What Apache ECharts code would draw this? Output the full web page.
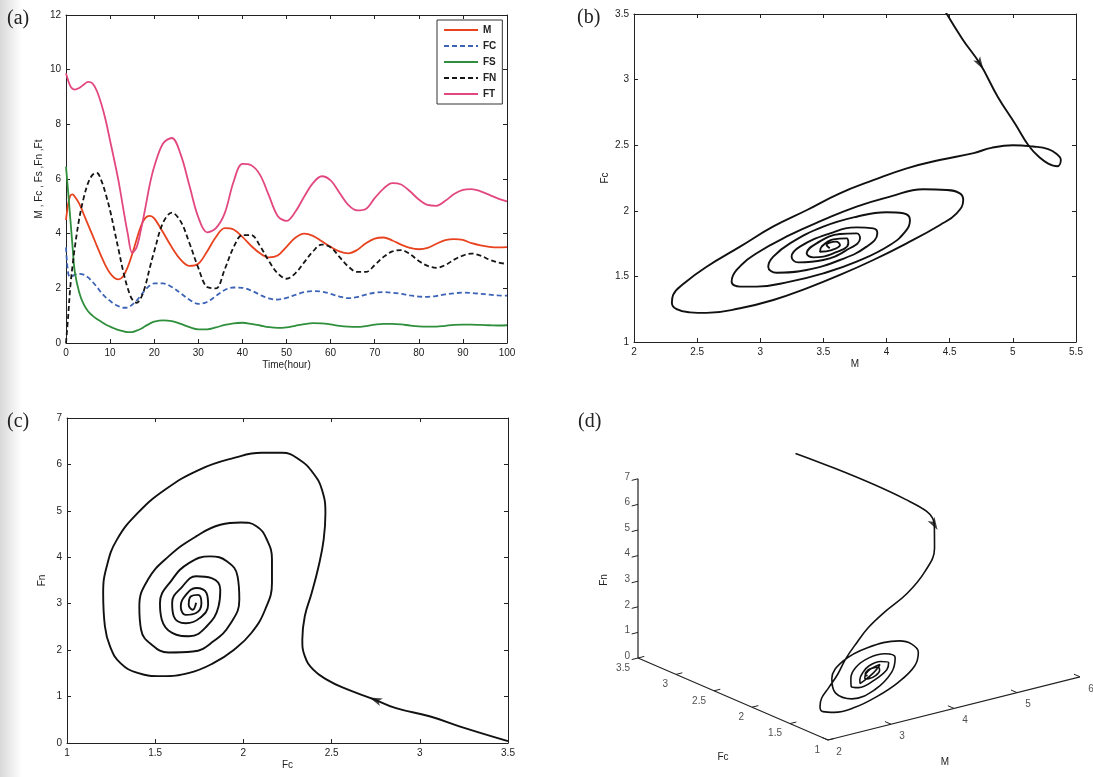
<!DOCTYPE html>
<html><head><meta charset="utf-8">
<script src="https://cdn.jsdelivr.net/npm/echarts@6/dist/echarts.min.js"></script>
<style>html,body{margin:0;padding:0;background:#fff}#c{width:1093px;height:777px}</style>
</head><body><div id="c"></div><script>
// ---------- (a) time series (hours) ----------
const T  = [0,0.5,1,1.5,2,3,4,5,6,7,8,9,10,11,12,13,14,15,16,17,18,19,20,22,24,26,28,30,32,34,36,38,40,42,44,46,48,50,52,54,56,58,60,62,64,66,68,70,72,74,76,78,80,82,84,86,88,90,92,94,96,98,100];
const M  = [4.5,5.1,5.4,5.44,5.35,5.1,4.72,4.33,3.95,3.55,3.17,2.82,2.55,2.38,2.33,2.45,2.78,3.25,3.78,4.28,4.58,4.65,4.56,4.05,3.5,3.05,2.82,2.9,3.35,3.88,4.2,4.15,3.88,3.55,3.28,3.13,3.2,3.52,3.85,4.0,3.92,3.72,3.52,3.35,3.28,3.4,3.65,3.82,3.86,3.75,3.6,3.48,3.43,3.48,3.63,3.76,3.8,3.77,3.65,3.57,3.52,3.5,3.51];
const FC = [3.5,2.55,2.42,2.45,2.5,2.53,2.5,2.4,2.24,2.05,1.84,1.67,1.54,1.42,1.34,1.29,1.3,1.4,1.55,1.75,1.95,2.1,2.18,2.18,2.05,1.82,1.58,1.43,1.5,1.72,1.94,2.03,2.02,1.92,1.76,1.63,1.59,1.65,1.76,1.86,1.9,1.88,1.8,1.7,1.64,1.68,1.77,1.84,1.86,1.84,1.8,1.74,1.7,1.69,1.72,1.78,1.82,1.84,1.83,1.8,1.77,1.74,1.73];
const FS = [6.45,5.5,4.5,3.5,2.6,1.85,1.42,1.16,1.0,0.88,0.78,0.68,0.6,0.53,0.47,0.43,0.4,0.4,0.45,0.52,0.62,0.71,0.78,0.83,0.8,0.7,0.58,0.5,0.5,0.57,0.66,0.72,0.74,0.7,0.64,0.58,0.55,0.57,0.63,0.69,0.73,0.72,0.68,0.63,0.6,0.59,0.62,0.67,0.7,0.7,0.68,0.64,0.61,0.6,0.6,0.63,0.66,0.67,0.67,0.66,0.65,0.64,0.65];
const FN = [0,1.0,2.1,2.85,3.5,4.55,5.3,5.85,6.15,6.22,5.95,5.45,4.85,4.1,3.35,2.6,2.0,1.6,1.47,1.65,2.1,2.75,3.35,4.4,4.77,4.45,3.65,2.75,2.05,2.0,2.7,3.5,3.95,3.95,3.55,3.0,2.55,2.35,2.55,2.95,3.35,3.6,3.5,3.15,2.8,2.6,2.6,2.85,3.15,3.35,3.4,3.25,3.0,2.82,2.75,2.85,3.05,3.2,3.27,3.2,3.05,2.95,2.89];
const FT = [9.87,9.6,9.4,9.3,9.27,9.33,9.45,9.55,9.5,9.22,8.75,8.15,7.4,6.65,5.85,4.9,4.0,3.3,3.5,4.15,4.95,5.8,6.45,7.3,7.5,6.9,5.75,4.6,4.05,4.2,4.75,5.9,6.55,6.5,6.15,5.4,4.65,4.47,4.8,5.35,5.85,6.1,5.95,5.5,5.05,4.85,4.9,5.3,5.65,5.85,5.8,5.55,5.25,5.05,5.02,5.2,5.45,5.6,5.63,5.55,5.42,5.28,5.18];
const NAMES = ['M','FC','FS','FN','FT'];

// ---------- (b) phase portrait M vs Fc ----------
const bM  = [4.44,4.6,4.74,4.88,5.02,5.13,5.22,5.28,5.35,5.38,5.35,5.28,5.16,5.0,4.83,4.69,4.42,4.16,3.9,3.63,3.37,3.10,2.84,2.575,2.40,2.31,2.30,2.338,2.443,2.575,2.84,3.103,3.367,3.631,3.895,4.159,4.423,4.555,4.607,4.58,4.476,4.291,4.027,3.763,3.499,3.235,2.971,2.813,2.773,2.84,2.971,3.235,3.499,3.763,4.027,4.159,4.185,4.132,4.0,3.763,3.499,3.235,3.103,3.063,3.13,3.367,3.631,3.842,3.927,3.895,3.763,3.552,3.314,3.248,3.3,3.499,3.684,3.79,3.763,3.631,3.446,3.367,3.42,3.578,3.697,3.684,3.578,3.486,3.473,3.565,3.631,3.6,3.525,3.55];
const bFc = [3.56,3.31,3.12,2.87,2.66,2.49,2.40,2.36,2.34,2.39,2.43,2.47,2.49,2.5,2.48,2.44,2.387,2.324,2.235,2.133,2.006,1.879,1.727,1.574,1.45,1.36,1.30,1.25,1.226,1.222,1.257,1.32,1.409,1.511,1.625,1.752,1.892,1.981,2.082,2.133,2.159,2.164,2.108,2.032,1.93,1.816,1.676,1.549,1.46,1.422,1.422,1.46,1.523,1.612,1.739,1.854,1.93,1.981,1.989,1.955,1.879,1.752,1.65,1.574,1.528,1.549,1.625,1.727,1.828,1.866,1.874,1.828,1.727,1.65,1.607,1.625,1.701,1.79,1.828,1.823,1.752,1.676,1.645,1.676,1.752,1.79,1.782,1.727,1.688,1.701,1.739,1.765,1.739,1.714];

// ---------- (c) phase portrait Fc vs Fn ----------
const cFc = [3.5,3.256,3.06,2.865,2.748,2.572,2.475,2.396,2.348,2.334,2.348,2.387,2.426,2.455,2.465,2.445,2.396,2.318,2.22,2.104,1.947,1.752,1.557,1.4,1.283,1.225,1.205,1.215,1.244,1.303,1.4,1.537,1.693,1.83,1.947,2.045,2.123,2.162,2.162,2.133,2.074,1.986,1.869,1.732,1.576,1.459,1.41,1.42,1.479,1.576,1.713,1.83,1.928,1.977,1.967,1.908,1.811,1.693,1.596,1.527,1.537,1.596,1.693,1.791,1.859,1.869,1.82,1.732,1.654,1.596,1.605,1.674,1.752,1.8,1.791,1.732,1.674,1.645,1.674,1.732,1.762,1.742,1.703,1.69,1.713,1.732];
const cFn = [0.04,0.32,0.57,0.75,0.93,1.18,1.36,1.58,1.87,2.23,2.73,3.23,3.8,4.38,4.95,5.46,5.81,6.1,6.25,6.25,6.14,5.89,5.46,4.95,4.38,3.8,3.23,2.51,2.08,1.72,1.51,1.44,1.51,1.72,2.01,2.37,2.87,3.45,3.95,4.38,4.67,4.75,4.7,4.45,4.02,3.52,2.94,2.44,2.12,1.95,1.97,2.19,2.58,3.09,3.59,3.91,4.02,3.88,3.52,3.01,2.66,2.37,2.3,2.51,2.94,3.3,3.55,3.59,3.37,3.02,2.73,2.58,2.69,2.98,3.23,3.34,3.19,2.94,2.76,2.8,3.01,3.19,3.16,2.98,2.87,3.02];

// ---------- (d) 3-D axes ticks ----------
const dMTicks  = [2,3,4,5,6];
const dFcTicks = [3.5,3,2.5,2,1.5,1];
const dZTicks  = [0,1,2,3,4,5,6,7];

// ---------- helpers ----------
const FONT = '"Liberation Sans", Arial, sans-serif';
const INK = '#222';
// oblique projection of panel (d): origin at (M=2, Fc=1, z=0)
const PJ = {ox:828, oy:740, mx:63, my:-15.8, fx:-76, fy:-32.8, zy:-25.6};
function proj(m, fc, z){
  return [PJ.ox + PJ.mx*(m-2) + PJ.fx*(fc-1), PJ.oy + PJ.my*(m-2) + PJ.fy*(fc-1) + PJ.zy*z];
}
function ax(extra, labels){
  return Object.assign({
    type:'value', splitLine:{show:false}, scale:false,
    axisLine:{show:true, onZero:false, lineStyle:{color:INK, width:1}},
    axisTick:{show:true, inside:true, length:4, lineStyle:{color:INK, width:1}},
    axisLabel:{show:labels, color:INK, fontSize:10, fontFamily:FONT, margin:5},
    nameTextStyle:{color:INK, fontSize:10, fontFamily:FONT},
    nameLocation:'middle'
  }, extra);
}
const COLORS = {M:'#e8421e', FC:'#3c63b6', FS:'#2f8f3c', FN:'#151515', FT:'#e2487f'};
const DASH = {M:'solid', FC:[5,3], FS:'solid', FN:[5,3], FT:'solid'};
const SERIES_VALUES = {M:M, FC:FC, FS:FS, FN:FN, FT:FT};

const arrowSym = 'path://M0,0 L6,16 L0,12 L-6,16 Z';

const series = [];
NAMES.forEach(n => {
  series.push({
    name:n, type:'line', xAxisIndex:0, yAxisIndex:0, symbol:'none', smooth:0.35,
    data:T.map((t,i)=>[t, SERIES_VALUES[n][i]]),
    lineStyle:{color:COLORS[n], width:1.8, type:DASH[n]}, itemStyle:{color:COLORS[n]}, z:3
  });
});
series.push({type:'line', xAxisIndex:2, yAxisIndex:2, symbol:'none', smooth:0.45,
  data:bM.map((m,i)=>[m,bFc[i]]), lineStyle:{color:'#111', width:1.9}});
series.push({type:'line', xAxisIndex:4, yAxisIndex:4, symbol:'none', smooth:0.45,
  data:cFc.map((f,i)=>[f,cFn[i]]), lineStyle:{color:'#111', width:1.9}});
// (d) trajectory of (M, Fc, Fs)
const dPath = T.map((t,i)=>proj(M[i], FC[i], FS[i]));
series.push({type:'line', xAxisIndex:6, yAxisIndex:6, symbol:'none', smooth:0.4, clip:false,
  data:dPath, lineStyle:{color:'#111', width:1.6}});
// (d) axis lines
series.push({type:'line', xAxisIndex:6, yAxisIndex:6, symbol:'none', clip:false,
  data:[proj(2,3.5,7), proj(2,3.5,0), proj(2,1,0), proj(6,1,0)], lineStyle:{color:INK, width:1.2}});
// (d) tick marks
const tickSegs = [];
dZTicks.forEach(z=>tickSegs.push({coords:[proj(2,3.5,z), proj(1.9,3.5,z)]}));
dFcTicks.forEach(f=>tickSegs.push({coords:[proj(2,f,0), proj(2.1,f,0)]}));
dMTicks.forEach(m=>tickSegs.push({coords:[proj(m,1,0), proj(m,1.08,0)]}));
series.push({type:'lines', coordinateSystem:'cartesian2d', xAxisIndex:6, yAxisIndex:6,
  data:tickSegs, lineStyle:{color:INK, width:1, opacity:1}, silent:true});
// (d) tick labels
function labSeries(items, pos, align){
  return {type:'scatter', xAxisIndex:6, yAxisIndex:6, symbolSize:0, silent:true,
    data:items, label:{show:true, position:pos, align:align, verticalAlign:'middle',
      formatter:p=>p.name, color:INK, fontSize:10, fontFamily:FONT}};
}
series.push(labSeries(dZTicks.map(z=>({name:String(z), value:proj(2,3.5,z)})), [-8,-2], 'right'));
series.push(labSeries(dFcTicks.map(f=>({name:String(f), value:proj(2,f,0)})), [-8,10], 'right'));
series.push(labSeries(dMTicks.map(m=>({name:String(m), value:proj(m,1,0)})), [11,12], 'center'));
// arrows
series.push({id:'arrB', type:'scatter', xAxisIndex:2, yAxisIndex:2, symbol:arrowSym, symbolSize:[8,13],
  data:[[bM[2], bFc[2]]], itemStyle:{color:'#111'}, z:5, silent:true});
series.push({id:'arrC', type:'scatter', xAxisIndex:4, yAxisIndex:4, symbol:arrowSym, symbolSize:[8,13],
  data:[[cFc[4], cFn[4]]], itemStyle:{color:'#111'}, z:5, silent:true});
series.push({id:'arrD', type:'scatter', xAxisIndex:6, yAxisIndex:6, symbol:arrowSym, symbolSize:[8,13],
  data:[dPath[2]], itemStyle:{color:'#111'}, z:5, silent:true});

const option = {
  animation:false, backgroundColor:'#fff',
  grid:[
    {left:66, top:15, width:441, height:328},
    {left:634, top:14, width:442, height:328},
    {left:67, top:418, width:441, height:325},
    {left:0, top:0, width:1093, height:777}
  ],
  xAxis:[
    ax({gridIndex:0, min:0, max:100, interval:10, name:'Time(hour)', nameGap:17}, true),
    ax({gridIndex:0, min:0, max:100, interval:10, position:'top'}, false),
    ax({gridIndex:1, min:2, max:5.5, interval:0.5, name:'M', nameGap:17}, true),
    ax({gridIndex:1, min:2, max:5.5, interval:0.5, position:'top'}, false),
    ax({gridIndex:2, min:1, max:3.5, interval:0.5, name:'Fc', nameGap:17}, true),
    ax({gridIndex:2, min:1, max:3.5, interval:0.5, position:'top'}, false),
    {type:'value', gridIndex:3, min:0, max:1093, show:false}
  ],
  yAxis:[
    ax({gridIndex:0, min:0, max:12, interval:2, name:'M , Fc , Fs ,Fn ,Ft', nameGap:22}, true),
    ax({gridIndex:0, min:0, max:12, interval:2, position:'right'}, false),
    ax({gridIndex:1, min:1, max:3.5, interval:0.5, name:'Fc', nameGap:24}, true),
    ax({gridIndex:1, min:1, max:3.5, interval:0.5, position:'right'}, false),
    ax({gridIndex:2, min:0, max:7, interval:1, name:'Fn', nameGap:20}, true),
    ax({gridIndex:2, min:0, max:7, interval:1, position:'right'}, false),
    {type:'value', gridIndex:3, min:0, max:777, inverse:true, show:false}
  ],
  legend:{
    data:NAMES, orient:'vertical', left:437, top:20, itemWidth:34, itemHeight:10, itemGap:6,
    padding:[5,6,5,6], borderColor:'#333', borderWidth:1, backgroundColor:'#fff',
    itemStyle:{opacity:0},
    textStyle:{color:INK, fontSize:10, fontFamily:FONT, fontWeight:'bold'}
  },
  graphic:[
    {type:'rect', left:0, top:0, shape:{width:22, height:777}, silent:true, z:-10,
      style:{fill:new echarts.graphic.LinearGradient(0,0,1,0,[{offset:0,color:'#d9d9d9'},{offset:1,color:'#ffffff'}])}},
    {type:'text', left:7, top:9, style:{text:'(a)', font:'20px "Liberation Serif", serif', fill:'#222'}},
    {type:'text', left:577, top:8, style:{text:'(b)', font:'20px "Liberation Serif", serif', fill:'#222'}},
    {type:'text', left:7, top:412, style:{text:'(c)', font:'20px "Liberation Serif", serif', fill:'#222'}},
    {type:'text', left:578, top:412, style:{text:'(d)', font:'20px "Liberation Serif", serif', fill:'#222'}},
    {type:'text', x:604, y:580, rotation:Math.PI/2, style:{text:'Fn', font:'10px "Liberation Sans", Arial', fill:'#222', align:'center', verticalAlign:'middle'}},
    {type:'text', x:723, y:757, style:{text:'Fc', font:'10px "Liberation Sans", Arial', fill:'#222', align:'center', verticalAlign:'middle'}},
    {type:'text', x:945, y:762, style:{text:'M', font:'10px "Liberation Sans", Arial', fill:'#222', align:'center', verticalAlign:'middle'}}
  ],
  series:series
};
const chart = echarts.init(document.getElementById('c'), null, {renderer:'canvas'});
chart.setOption(option);

// orient the arrowheads along the trajectories
function angleOf(gridIndex, p0, p1){
  const a = chart.convertToPixel({gridIndex:gridIndex}, p0);
  const b = chart.convertToPixel({gridIndex:gridIndex}, p1);
  return Math.atan2(-(b[1]-a[1]), b[0]-a[0]) * 180 / Math.PI - 90;
}
chart.setOption({series:[
  {id:'arrB', symbolRotate:angleOf(1, [bM[1],bFc[1]], [bM[3],bFc[3]])},
  {id:'arrC', symbolRotate:angleOf(2, [cFc[3],cFn[3]], [cFc[5],cFn[5]])},
  {id:'arrD', symbolRotate:angleOf(3, dPath[1], dPath[3])}
]});
</script></body></html>
